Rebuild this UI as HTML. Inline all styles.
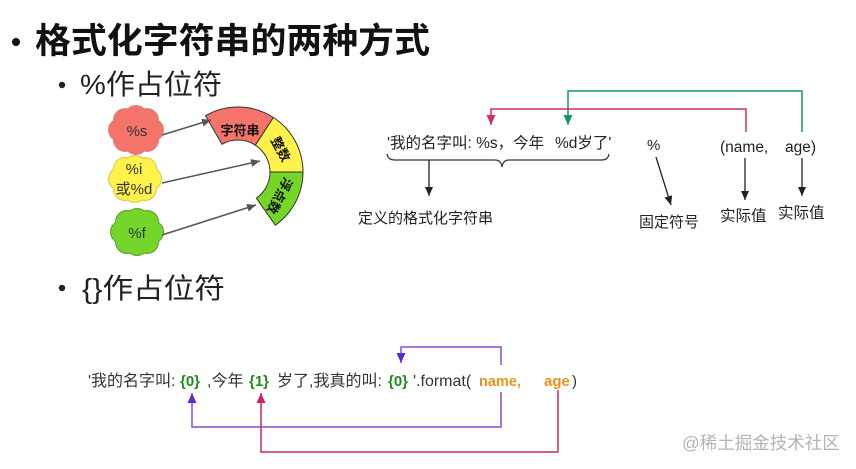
<!DOCTYPE html>
<html><head><meta charset="utf-8"><style>
html,body{margin:0;padding:0;background:#fff;}
svg{display:block;}
text{font-family:"Liberation Sans","Noto Sans CJK SC",sans-serif;}
</style></head><body>
<svg width="856" height="469" viewBox="0 0 856 469" xmlns="http://www.w3.org/2000/svg">
<defs>
<marker id="mg" markerUnits="userSpaceOnUse" markerWidth="10" markerHeight="10" refX="9" refY="4" orient="auto"><path d="M0,0 L9,4 L0,8 z" fill="#555"/></marker>
<marker id="mk" markerUnits="userSpaceOnUse" markerWidth="10" markerHeight="10" refX="9" refY="4" orient="auto"><path d="M0,0 L9,4 L0,8 z" fill="#222"/></marker>
<marker id="mgr" markerUnits="userSpaceOnUse" markerWidth="12" markerHeight="12" refX="10" refY="4.5" orient="auto"><path d="M0,0 L10,4.5 L0,9 z" fill="#17936a"/></marker>
<marker id="mr" markerUnits="userSpaceOnUse" markerWidth="12" markerHeight="12" refX="10" refY="4.5" orient="auto"><path d="M0,0 L10,4.5 L0,9 z" fill="#d0305a"/></marker>
<marker id="mp" markerUnits="userSpaceOnUse" markerWidth="12" markerHeight="12" refX="10" refY="4.5" orient="auto"><path d="M0,0 L10,4.5 L0,9 z" fill="#5a2bd0"/></marker>
<marker id="mc" markerUnits="userSpaceOnUse" markerWidth="12" markerHeight="12" refX="10" refY="4.5" orient="auto"><path d="M0,0 L10,4.5 L0,9 z" fill="#c8285a"/></marker>
</defs>

<!-- Titles -->
<circle cx="16" cy="42" r="4" fill="#111"/>
<text x="35" y="53" font-size="35" font-weight="bold" fill="#111" textLength="395" lengthAdjust="spacingAndGlyphs">格式化字符串的两种方式</text>
<circle cx="62" cy="85" r="3.2" fill="#222"/>
<text x="80" y="94" font-size="28" fill="#222" textLength="142" lengthAdjust="spacingAndGlyphs">%作占位符</text>
<circle cx="62" cy="288" r="3.2" fill="#222"/>
<text x="82" y="298" font-size="28" fill="#222" textLength="143" lengthAdjust="spacingAndGlyphs">{}作占位符</text>

<!-- Clouds: red -->
<g stroke="#d8887e" stroke-width="2" fill="#f4736a">
<circle cx="152" cy="130" r="11"/><circle cx="147" cy="120" r="11"/><circle cx="136" cy="117" r="11"/><circle cx="125" cy="120" r="11"/><circle cx="120" cy="130" r="11"/><circle cx="125" cy="140" r="11"/><circle cx="136" cy="143" r="11"/><circle cx="147" cy="140" r="11"/>
</g>
<g fill="#f4736a">
<circle cx="152" cy="130" r="11"/><circle cx="147" cy="120" r="11"/><circle cx="136" cy="117" r="11"/><circle cx="125" cy="120" r="11"/><circle cx="120" cy="130" r="11"/><circle cx="125" cy="140" r="11"/><circle cx="136" cy="143" r="11"/><circle cx="147" cy="140" r="11"/><ellipse cx="136" cy="130" rx="19" ry="15"/>
</g>
<text x="137" y="136" font-size="15" fill="#333" text-anchor="middle">%s</text>

<!-- yellow -->
<g stroke="#d6c84a" stroke-width="2" fill="#fff24a">
<circle cx="150" cy="179" r="11"/><circle cx="145" cy="169" r="11"/><circle cx="135" cy="167" r="11"/><circle cx="125" cy="169" r="11"/><circle cx="120" cy="179" r="11"/><circle cx="125" cy="189" r="11"/><circle cx="135" cy="191" r="11"/><circle cx="145" cy="189" r="11"/>
</g>
<g fill="#fff24a">
<circle cx="150" cy="179" r="11"/><circle cx="145" cy="169" r="11"/><circle cx="135" cy="167" r="11"/><circle cx="125" cy="169" r="11"/><circle cx="120" cy="179" r="11"/><circle cx="125" cy="189" r="11"/><circle cx="135" cy="191" r="11"/><circle cx="145" cy="189" r="11"/><ellipse cx="135" cy="179" rx="18" ry="15"/>
</g>
<text x="134" y="174" font-size="15" fill="#333" text-anchor="middle">%i</text>
<text x="134" y="194" font-size="15" fill="#333" text-anchor="middle">或%d</text>

<!-- green -->
<g stroke="#5a9e2a" stroke-width="2" fill="#74d62a">
<circle cx="152" cy="232" r="11"/><circle cx="147" cy="222" r="11"/><circle cx="137" cy="220" r="11"/><circle cx="127" cy="222" r="11"/><circle cx="122" cy="232" r="11"/><circle cx="127" cy="242" r="11"/><circle cx="137" cy="244" r="11"/><circle cx="147" cy="242" r="11"/>
</g>
<g fill="#74d62a">
<circle cx="152" cy="232" r="11"/><circle cx="147" cy="222" r="11"/><circle cx="137" cy="220" r="11"/><circle cx="127" cy="222" r="11"/><circle cx="122" cy="232" r="11"/><circle cx="127" cy="242" r="11"/><circle cx="137" cy="244" r="11"/><circle cx="147" cy="242" r="11"/><ellipse cx="137" cy="232" rx="19" ry="15"/>
</g>
<text x="137" y="238" font-size="15" fill="#333" text-anchor="middle">%f</text>

<!-- Block arc -->
<path d="M205.5,115.7 A65,65 0 0 1 273.4,117.5 L255.4,145.2 A32,32 0 0 0 222,144.3 Z" fill="#f4736a" stroke="#333" stroke-width="1"/>
<path d="M273.4,117.5 A65,65 0 0 1 303,172 L270,172 A32,32 0 0 0 255.4,145.2 Z" fill="#fff24a" stroke="#333" stroke-width="1"/>
<path d="M303,172 A65,65 0 0 1 275.3,225.2 L256.4,198.2 A32,32 0 0 0 270,172 Z" fill="#76d626" stroke="#333" stroke-width="1"/>
<text x="240" y="135" font-size="13" font-weight="bold" fill="#111" text-anchor="middle">字符串</text>
<text x="0" y="0" font-size="13" font-weight="bold" fill="#111" text-anchor="middle" transform="translate(281,149) rotate(62) translate(0,5)">整数</text>
<text x="0" y="0" font-size="13" font-weight="bold" fill="#111" text-anchor="middle" transform="translate(280,196) rotate(118) translate(0,5)">浮点数</text>

<!-- left arrows -->
<line x1="162" y1="135" x2="211" y2="120" stroke="#555" stroke-width="1.5" marker-end="url(#mg)"/>
<line x1="162" y1="183" x2="260" y2="161" stroke="#555" stroke-width="1.5" marker-end="url(#mg)"/>
<line x1="162" y1="235" x2="256" y2="205" stroke="#555" stroke-width="1.5" marker-end="url(#mg)"/>

<!-- top right diagram -->
<polyline points="802,132 802,91 568,91 568,125" fill="none" stroke="#17936a" stroke-width="1.5" marker-end="url(#mgr)"/>
<polyline points="746,132 746,109 491,109 491,125" fill="none" stroke="#d0305a" stroke-width="1.5" marker-end="url(#mr)"/>
<text x="387" y="148" font-size="15.5" fill="#222">'我的名字叫: %s，今年</text>
<text x="555" y="148" font-size="15.5" fill="#222">%d岁了'</text>
<path d="M387,154 Q388,160 395,160 L495,160 Q501,160 502,167 Q503,160 509,160 L602,160 Q608,160 609,154" fill="none" stroke="#333" stroke-width="1.2"/>
<line x1="429" y1="160" x2="429" y2="196" stroke="#222" stroke-width="1.3" marker-end="url(#mk)"/>
<text x="358" y="223" font-size="15" fill="#222">定义的格式化字符串</text>
<text x="647" y="150" font-size="15" fill="#222">%</text>
<line x1="656" y1="157" x2="671" y2="205" stroke="#222" stroke-width="1.3" marker-end="url(#mk)"/>
<text x="639" y="227" font-size="15" fill="#222">固定符号</text>
<text x="720" y="152" font-size="15.5" fill="#222">(name,</text>
<text x="785" y="152" font-size="15.5" fill="#222">age)</text>
<line x1="745" y1="158" x2="745" y2="200" stroke="#222" stroke-width="1.3" marker-end="url(#mk)"/>
<line x1="802" y1="158" x2="802" y2="196" stroke="#222" stroke-width="1.3" marker-end="url(#mk)"/>
<text x="720" y="221" font-size="15.5" fill="#222">实际值</text>
<text x="778" y="218" font-size="15.5" fill="#222">实际值</text>

<!-- bottom diagram -->
<text x="88" y="386" font-size="16" fill="#333">'我的名字叫:</text>
<text x="180" y="386" font-size="15" font-weight="bold" fill="#1e8c1e">{0}</text>
<text x="207" y="386" font-size="16" fill="#333">,今年</text>
<text x="249" y="386" font-size="15" font-weight="bold" fill="#1e8c1e">{1}</text>
<text x="277" y="386" font-size="16" fill="#333">岁了,我真的叫:</text>
<text x="388" y="386" font-size="15" font-weight="bold" fill="#1e8c1e">{0}</text>
<text x="413" y="386" font-size="16" fill="#333">'.format(</text>
<text x="479" y="386" font-size="14.5" font-weight="bold" fill="#f0901a">name,</text>
<text x="544" y="386" font-size="15" font-weight="bold" fill="#f0901a">age</text>
<text x="572" y="386" font-size="15" fill="#333">)</text>

<polyline points="501,392 501,427 192,427 192,393" fill="none" stroke="#8a4bd0" stroke-width="1.5" marker-end="url(#mp)"/>
<polyline points="501,365 501,347 401,347 401,363" fill="none" stroke="#8a4bd0" stroke-width="1.5" marker-end="url(#mp)"/>
<polyline points="558,390 558,452 261,452 261,393" fill="none" stroke="#c8285a" stroke-width="1.5" marker-end="url(#mc)"/>

<text x="682" y="449" font-size="17.5" fill="#b4b4b4">@稀土掘金技术社区</text>
</svg>
</body></html>
